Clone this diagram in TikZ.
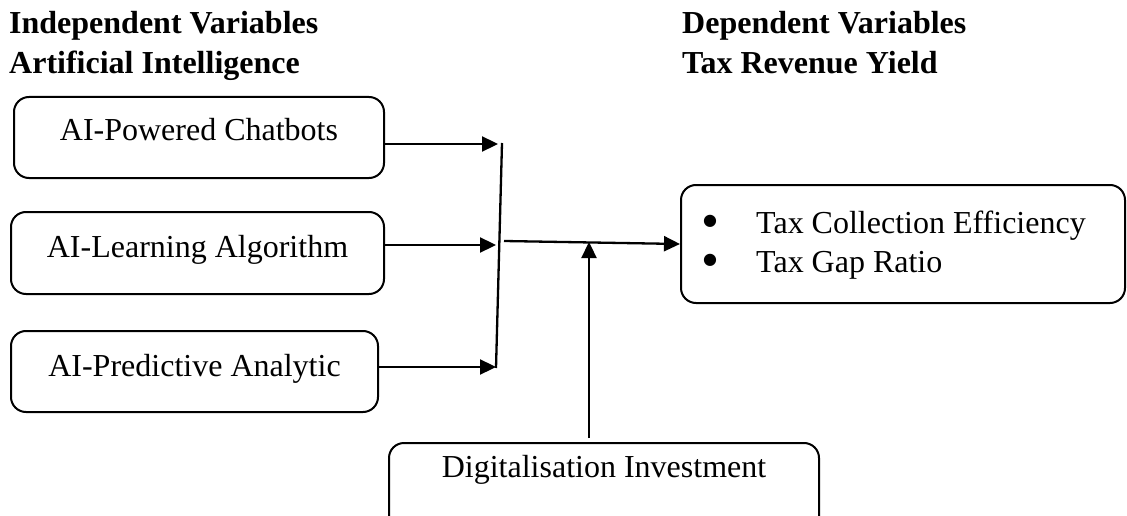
\documentclass[tikz,border=0pt]{standalone}
\usepackage{fontspec}
\setmainfont{Liberation Serif}
\newfontfamily\dejavu{DejaVu Sans}
\usetikzlibrary{arrows.meta}
\newcommand{\bigbul}{\makebox[53pt][l]{\raisebox{8pt}{\dejavu\fontsize{16}{16}\selectfont ●}}}
\begin{document}
\begin{tikzpicture}[x=1pt,y=-1pt,
  txt/.style={font=\fontsize{32}{39}\selectfont, inner sep=0pt},
  head/.style={font=\fontsize{32}{38}\selectfont\bfseries, inner sep=0pt, anchor=base west},
  box/.style={draw, line width=2pt, rounded corners=15pt, inner sep=0pt, anchor=north west,
    font=\fontsize{32}{38}\selectfont},
  conn/.style={line width=2.3pt},
  arr/.style={line width=2.3pt, -{Triangle[length=16pt,width=15pt]}}]
\useasboundingbox (0,0) rectangle (1127,516);
% headings
\node[head] (h1) at (9,34) {Independent Variables};
\node[head] (h2) at (9,74) {Artificial Intelligence};
\node[head] (h3) at (682,34) {Dependent Variables};
\node[head] (h4) at (682,74) {Tax Revenue Yield};
% input boxes
\node[box, minimum width=370pt, text height=44pt, text depth=37pt] (chat) at (13,96) {AI-Powered Chatbots};
\node[box, minimum width=373pt, text height=45pt, text depth=37pt] (learn) at (10,211) {AI-Learning Algorithm};
\node[box, minimum width=367pt, text height=45pt, text depth=36pt] (pred) at (10,330) {AI-Predictive Analytic};
% output box
\node[box, minimum width=444pt, minimum height=118pt] (out) at (680,184) {};
\node[txt, align=left, anchor=base west] (list) at (703,272)
  {\bigbul Tax Collection Efficiency\\ \bigbul Tax Gap Ratio};
% moderator box
\node[box, minimum width=430pt, text height=34pt, text depth=60pt] (dig) at (388,442) {Digitalisation Investment};
% junction
\coordinate (bt) at (502,143);
\coordinate (bb) at (496,368);
\coordinate (j1) at (498,144);
\coordinate (j2) at (496,245);
\coordinate (j3) at (496,367);
\coordinate (m1) at (504,241);
\coordinate (m2) at (589,242);
\coordinate (d1) at (589,438);
\draw[conn] (bt) -- (bb);
\draw[arr] (chat.east |- j1) -- (j1);
\draw[arr] (learn.east |- j2) -- (j2);
\draw[arr] (pred.east |- j3) -- (j3);
\draw[arr] (m1) -- (out.west);
\draw[arr] (d1) -- (m2);
\end{tikzpicture}
\end{document}
